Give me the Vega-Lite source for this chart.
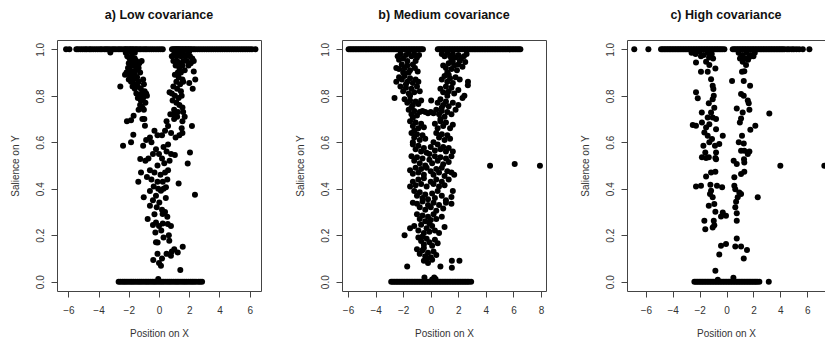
{
"$schema":"https://vega.github.io/schema/vega-lite/v6.json",
"padding":{"left":9,"top":8,"right":0,"bottom":0},
"spacing":81,
"bounds":"flush",
"config":{
 "view":{"stroke":"#444","strokeWidth":1},
 "font":"Liberation Sans",
 "axis":{"grid":false,"domain":false,"tickColor":"#444","tickSize":6,"labelFontSize":10,"labelColor":"#333","titleFontSize":10,"titleFontWeight":"normal","titleColor":"#333","labelFont":"Liberation Sans","titleFont":"Liberation Sans","labelFlush":false,"labelOverlap":false},
 "axisX":{"labelPadding":8,"titlePadding":13},
 "axisY":{"labelAngle":-90,"labelAlign":"center","labelBaseline":"bottom","labelPadding":6,"titlePadding":15},
 "title":{"fontSize":12.5,"fontWeight":"bold","font":"Liberation Sans","anchor":"middle","offset":19,"color":"#111","baseline":"alphabetic"}
},
"datasets":{
"a":[
{"x":-6.15,"y":1},{"x":-5.93,"y":1},{"x":-5.47,"y":1},{"x":-5.35,"y":1},{"x":-5.2,"y":1},{"x":-5.05,"y":1},{"x":-4.9,"y":1},{"x":-4.78,"y":1},{"x":-4.62,"y":1},{"x":-4.5,"y":1},{"x":-4.35,"y":1},{"x":-4.2,"y":1},{"x":-4.05,"y":1},{"x":-3.9,"y":1},{"x":-3.78,"y":1},{"x":-3.62,"y":1},{"x":-3.5,"y":1},{"x":-3.38,"y":1},{"x":-3.25,"y":1},{"x":-3.1,"y":1},{"x":-2.98,"y":1},{"x":-2.85,"y":1},{"x":-2.7,"y":1},{"x":-2.58,"y":1},{"x":-2.45,"y":1},{"x":-2.3,"y":1},{"x":-2.2,"y":1},{"x":-2.1,"y":1},{"x":-1.98,"y":1},{"x":-1.88,"y":1},{"x":-1.78,"y":1},{"x":-1.68,"y":1},{"x":-1.55,"y":1},{"x":-1.45,"y":1},{"x":-1.32,"y":1},{"x":-1.2,"y":1},{"x":-1.05,"y":1},{"x":-0.92,"y":1},{"x":-0.8,"y":1},{"x":-0.65,"y":1},{"x":-0.5,"y":1},{"x":-0.35,"y":1},{"x":-0.2,"y":1},{"x":-0.05,"y":1},{"x":0.1,"y":1},{"x":0.25,"y":1},
{"x":0.86,"y":1},{"x":0.95,"y":1},{"x":1.05,"y":1},{"x":1.12,"y":1},{"x":1.2,"y":1},{"x":1.28,"y":1},{"x":1.36,"y":1},{"x":1.45,"y":1},{"x":1.55,"y":1},{"x":1.65,"y":1},{"x":1.75,"y":1},{"x":1.85,"y":1},{"x":1.95,"y":1},{"x":2.05,"y":1},{"x":2.15,"y":1},{"x":2.28,"y":1},{"x":2.4,"y":1},{"x":2.55,"y":1},{"x":2.7,"y":1},{"x":2.85,"y":1},{"x":3.0,"y":1},{"x":3.15,"y":1},{"x":3.3,"y":1},{"x":3.45,"y":1},{"x":3.6,"y":1},{"x":3.75,"y":1},{"x":3.9,"y":1},{"x":4.05,"y":1},{"x":4.2,"y":1},{"x":4.35,"y":1},{"x":4.5,"y":1},{"x":4.65,"y":1},{"x":4.8,"y":1},{"x":4.95,"y":1},{"x":5.1,"y":1},{"x":5.25,"y":1},{"x":5.4,"y":1},{"x":5.55,"y":1},{"x":5.7,"y":1},{"x":5.85,"y":1},{"x":6.0,"y":1},{"x":6.15,"y":1},{"x":6.38,"y":1},{"x":-3.22,"y":0.986},
{"x":-2.1,"y":0.97},{"x":-1.95,"y":0.96},{"x":-1.8,"y":0.97},{"x":-1.7,"y":0.95},{"x":-1.6,"y":0.96},{"x":-1.5,"y":0.95},{"x":-2.0,"y":0.94},{"x":-1.85,"y":0.93},{"x":-1.65,"y":0.93},{"x":-1.45,"y":0.93},{"x":-1.3,"y":0.94},{"x":-2.05,"y":0.92},{"x":-1.9,"y":0.91},{"x":-1.75,"y":0.9},{"x":-1.55,"y":0.91},{"x":-1.35,"y":0.92},{"x":-1.15,"y":0.95},{"x":-2.15,"y":0.9},{"x":-1.95,"y":0.89},{"x":-1.8,"y":0.88},{"x":-1.6,"y":0.89},{"x":-1.45,"y":0.88},{"x":-1.25,"y":0.9},{"x":-1.05,"y":0.87},{"x":-2.0,"y":0.87},{"x":-1.85,"y":0.86},{"x":-1.7,"y":0.87},{"x":-1.55,"y":0.85},{"x":-1.35,"y":0.86},{"x":-1.75,"y":0.84},{"x":-1.6,"y":0.83},{"x":-1.4,"y":0.84},{"x":-1.2,"y":0.83},{"x":-1.0,"y":0.85},{"x":-2.25,"y":0.89},{"x":-2.56,"y":0.84},{"x":-1.5,"y":0.81},{"x":-1.3,"y":0.8},{"x":-1.15,"y":0.81},{"x":-0.95,"y":0.82},{"x":-0.85,"y":0.81},{"x":-1.4,"y":0.79},{"x":-1.2,"y":0.78},{"x":-1.05,"y":0.79},{"x":-0.8,"y":0.8},{"x":-1.25,"y":0.76},{"x":-1.1,"y":0.75},{"x":-0.9,"y":0.77},{"x":-1.35,"y":0.74},{"x":-1.0,"y":0.74},{"x":-2.2,"y":0.985},{"x":-1.9,"y":0.99},{"x":-1.6,"y":0.985},
{"x":0.85,"y":0.97},{"x":1.0,"y":0.98},{"x":1.15,"y":0.97},{"x":1.3,"y":0.98},{"x":1.45,"y":0.97},{"x":1.6,"y":0.98},{"x":1.75,"y":0.97},{"x":1.9,"y":0.98},{"x":2.05,"y":0.97},{"x":2.2,"y":0.96},{"x":0.95,"y":0.95},{"x":1.2,"y":0.95},{"x":1.4,"y":0.94},{"x":1.6,"y":0.95},{"x":1.85,"y":0.95},{"x":2.1,"y":0.94},{"x":2.3,"y":0.95},{"x":1.1,"y":0.93},{"x":1.35,"y":0.92},{"x":1.55,"y":0.93},{"x":1.95,"y":0.93},{"x":1.25,"y":0.9},{"x":1.45,"y":0.9},{"x":1.7,"y":0.91},{"x":2.3,"y":0.905},{"x":1.05,"y":0.89},{"x":1.3,"y":0.88},{"x":1.55,"y":0.87},{"x":1.15,"y":0.86},{"x":1.4,"y":0.85},{"x":1.6,"y":0.86},{"x":2.4,"y":0.87},{"x":2.0,"y":0.855},{"x":0.95,"y":0.84},{"x":1.2,"y":0.83},{"x":1.45,"y":0.82},{"x":2.23,"y":0.83},{"x":0.7,"y":0.815},{"x":0.85,"y":0.81},{"x":1.05,"y":0.8},{"x":1.3,"y":0.79},{"x":1.5,"y":0.8},{"x":0.9,"y":0.78},{"x":1.15,"y":0.77},{"x":1.35,"y":0.76},{"x":1.55,"y":0.75},{"x":1.0,"y":0.74},{"x":1.25,"y":0.73},{"x":1.6,"y":0.73},{"x":0.75,"y":0.72},{"x":0.95,"y":0.72},{"x":1.7,"y":0.71},{"x":1.1,"y":0.99},{"x":1.5,"y":0.99},{"x":2.0,"y":0.99},
{"x":-2.12,"y":0.69},{"x":-1.85,"y":0.695},{"x":-1.68,"y":0.714},{"x":-2.38,"y":0.585},{"x":-1.85,"y":0.6},{"x":-1.7,"y":0.632},{"x":-0.97,"y":0.7},{"x":-0.93,"y":0.671},{"x":-1.1,"y":0.7},
{"x":0.5,"y":0.69},{"x":0.6,"y":0.67},{"x":0.8,"y":0.64},{"x":0.4,"y":0.65},{"x":1.0,"y":0.7},{"x":1.2,"y":0.71},{"x":1.55,"y":0.69},{"x":1.5,"y":0.66},{"x":1.35,"y":0.63},{"x":1.1,"y":0.62},{"x":2.18,"y":0.67},{"x":1.55,"y":0.64},
{"x":-0.3,"y":0.65},{"x":-0.1,"y":0.63},{"x":-0.5,"y":0.6},{"x":-0.6,"y":0.62},{"x":-0.85,"y":0.61},{"x":-1.05,"y":0.585},{"x":0.2,"y":0.63},{"x":0.6,"y":0.59},{"x":0.3,"y":0.58},
{"x":-0.2,"y":0.57},{"x":-0.4,"y":0.55},{"x":-0.7,"y":0.53},{"x":-0.9,"y":0.52},{"x":-1.24,"y":0.528},{"x":0.0,"y":0.55},{"x":0.2,"y":0.53},{"x":0.5,"y":0.56},{"x":0.8,"y":0.55},{"x":1.05,"y":0.545},{"x":0.7,"y":0.52},{"x":0.35,"y":0.51},{"x":-0.1,"y":0.5},{"x":1.9,"y":0.509},{"x":2.05,"y":0.556},
{"x":-0.6,"y":0.48},{"x":-0.3,"y":0.47},{"x":-1.19,"y":0.47},{"x":0.1,"y":0.46},{"x":0.4,"y":0.47},{"x":0.6,"y":0.48},{"x":-0.8,"y":0.45},{"x":-0.5,"y":0.44},{"x":-0.1,"y":0.43},{"x":0.25,"y":0.43},{"x":0.55,"y":0.44},{"x":1.3,"y":0.423},{"x":-1.37,"y":0.43},
{"x":-0.35,"y":0.41},{"x":-0.05,"y":0.4},{"x":0.3,"y":0.4},{"x":0.46,"y":0.406},{"x":-0.6,"y":0.39},{"x":0.13,"y":0.391},{"x":-0.2,"y":0.37},{"x":-1.01,"y":0.363},{"x":0.45,"y":0.36},{"x":-0.4,"y":0.35},{"x":0.02,"y":0.341},{"x":2.38,"y":0.374},
{"x":-0.6,"y":0.327},{"x":-0.15,"y":0.32},{"x":0.2,"y":0.31},{"x":0.4,"y":0.3},{"x":0.24,"y":0.291},{"x":-0.3,"y":0.29},{"x":0.55,"y":0.28},{"x":-0.75,"y":0.27},{"x":-0.2,"y":0.255},{"x":0.25,"y":0.25},{"x":-0.4,"y":0.244},{"x":0.0,"y":0.24},{"x":0.79,"y":0.24},{"x":0.58,"y":0.248},{"x":-0.24,"y":0.212},{"x":0.65,"y":0.2},{"x":0.68,"y":0.176},{"x":-0.09,"y":0.169},{"x":0.15,"y":0.22},{"x":-0.2,"y":0.17},{"x":0.3,"y":0.19},
{"x":1.01,"y":0.14},{"x":0.79,"y":0.112},{"x":1.57,"y":0.15},{"x":1.41,"y":0.05},{"x":1.24,"y":0.126},{"x":0.5,"y":0.12},{"x":0.13,"y":0.069},{"x":-0.38,"y":0.093},{"x":0.0,"y":0.08},{"x":0.2,"y":0.1},{"x":0.85,"y":0.13},{"x":-0.1,"y":0.12},
{"x":-2.67,"y":0},{"x":-2.55,"y":0},{"x":-2.42,"y":0},{"x":-2.3,"y":0},{"x":-2.18,"y":0},{"x":-2.05,"y":0},{"x":-1.92,"y":0},{"x":-1.8,"y":0},{"x":-1.68,"y":0},{"x":-1.55,"y":0},{"x":-1.42,"y":0},{"x":-1.3,"y":0},{"x":-1.18,"y":0},{"x":-1.05,"y":0},{"x":-0.92,"y":0},{"x":-0.8,"y":0},{"x":-0.68,"y":0},{"x":-0.55,"y":0},{"x":-0.42,"y":0},{"x":-0.3,"y":0},{"x":-0.18,"y":0},{"x":-0.05,"y":0},{"x":0.08,"y":0},{"x":0.2,"y":0},{"x":0.32,"y":0},{"x":0.45,"y":0},{"x":0.58,"y":0},{"x":0.7,"y":0},{"x":0.82,"y":0},{"x":0.95,"y":0},{"x":1.08,"y":0},{"x":1.2,"y":0},{"x":1.32,"y":0},{"x":1.45,"y":0},{"x":1.58,"y":0},{"x":1.7,"y":0},{"x":1.82,"y":0},{"x":1.95,"y":0},{"x":2.08,"y":0},{"x":2.2,"y":0},{"x":2.32,"y":0},{"x":2.45,"y":0},{"x":2.6,"y":0},{"x":2.72,"y":0},{"x":2.85,"y":0},{"x":-0.05,"y":0.012}
],
"b":[
{"x":-5.96,"y":1},{"x":-5.84,"y":1},{"x":-5.72,"y":1},{"x":-5.6,"y":1},{"x":-5.48,"y":1},{"x":-5.36,"y":1},{"x":-5.24,"y":1},{"x":-5.12,"y":1},{"x":-5.0,"y":1},{"x":-4.88,"y":1},{"x":-4.76,"y":1},{"x":-4.64,"y":1},{"x":-4.52,"y":1},{"x":-4.4,"y":1},{"x":-4.28,"y":1},{"x":-4.16,"y":1},{"x":-4.04,"y":1},{"x":-3.92,"y":1},{"x":-3.8,"y":1},{"x":-3.68,"y":1},{"x":-3.56,"y":1},{"x":-3.44,"y":1},{"x":-3.32,"y":1},{"x":-3.2,"y":1},{"x":-3.08,"y":1},{"x":-2.96,"y":1},{"x":-2.84,"y":1},{"x":-2.72,"y":1},{"x":-2.6,"y":1},{"x":-2.48,"y":1},{"x":-2.36,"y":1},{"x":-2.24,"y":1},{"x":-2.12,"y":1},{"x":-2.0,"y":1},{"x":-1.88,"y":1},{"x":-1.76,"y":1},{"x":-1.64,"y":1},{"x":-1.52,"y":1},{"x":-1.4,"y":1},{"x":-1.28,"y":1},{"x":-1.16,"y":1},{"x":-1.04,"y":1},{"x":-0.92,"y":1},{"x":-0.8,"y":1},{"x":-0.68,"y":1},{"x":-0.57,"y":1},
{"x":0.51,"y":1},{"x":0.63,"y":1},{"x":0.75,"y":1},{"x":0.87,"y":1},{"x":0.99,"y":1},{"x":1.11,"y":1},{"x":1.23,"y":1},{"x":1.35,"y":1},{"x":1.47,"y":1},{"x":1.59,"y":1},{"x":1.71,"y":1},{"x":1.83,"y":1},{"x":1.95,"y":1},{"x":2.07,"y":1},{"x":2.19,"y":1},{"x":2.31,"y":1},{"x":2.43,"y":1},{"x":2.55,"y":1},{"x":2.67,"y":1},{"x":2.79,"y":1},{"x":2.91,"y":1},{"x":3.03,"y":1},{"x":3.15,"y":1},{"x":3.27,"y":1},{"x":3.39,"y":1},{"x":3.51,"y":1},{"x":3.63,"y":1},{"x":3.75,"y":1},{"x":3.87,"y":1},{"x":3.99,"y":1},{"x":4.11,"y":1},{"x":4.23,"y":1},{"x":4.35,"y":1},{"x":4.47,"y":1},{"x":4.59,"y":1},{"x":4.71,"y":1},{"x":4.83,"y":1},{"x":4.95,"y":1},{"x":5.07,"y":1},{"x":5.19,"y":1},{"x":5.31,"y":1},{"x":5.43,"y":1},{"x":5.55,"y":1},{"x":5.67,"y":1},{"x":5.79,"y":1},{"x":5.91,"y":1},{"x":6.03,"y":1},{"x":6.15,"y":1},{"x":6.27,"y":1},{"x":6.39,"y":1},{"x":6.5,"y":1},
{"x":-2.4,"y":0.97},{"x":-2.2,"y":0.98},{"x":-2.0,"y":0.96},{"x":-1.8,"y":0.975},{"x":-1.6,"y":0.985},{"x":-1.4,"y":0.97},{"x":-1.2,"y":0.98},{"x":-1.0,"y":0.965},{"x":-0.85,"y":0.975},{"x":-1.7,"y":0.95},{"x":-2.3,"y":0.955},{"x":-1.1,"y":0.95},
{"x":0.8,"y":0.98},{"x":1.0,"y":0.97},{"x":1.2,"y":0.985},{"x":1.4,"y":0.97},{"x":1.6,"y":0.98},{"x":1.8,"y":0.965},{"x":2.0,"y":0.975},{"x":2.2,"y":0.96},{"x":2.4,"y":0.97},{"x":2.6,"y":0.98},{"x":1.5,"y":0.955},{"x":2.1,"y":0.95},{"x":2.5,"y":0.945},
{"x":-2.5,"y":0.92},{"x":-2.3,"y":0.915},{"x":-2.1,"y":0.935},{"x":-1.9,"y":0.92},{"x":-1.7,"y":0.93},{"x":-1.5,"y":0.91},{"x":-1.3,"y":0.935},{"x":-1.15,"y":0.92},{"x":-0.95,"y":0.905},{"x":-2.0,"y":0.9},{"x":-1.6,"y":0.9},
{"x":0.9,"y":0.93},{"x":1.1,"y":0.92},{"x":1.3,"y":0.94},{"x":1.5,"y":0.915},{"x":1.7,"y":0.93},{"x":1.9,"y":0.91},{"x":2.3,"y":0.925},{"x":1.2,"y":0.9},{"x":2.0,"y":0.935},{"x":1.6,"y":0.945},
{"x":-2.3,"y":0.88},{"x":-2.1,"y":0.87},{"x":-1.9,"y":0.885},{"x":-1.7,"y":0.86},{"x":-1.5,"y":0.875},{"x":-1.3,"y":0.855},{"x":-1.1,"y":0.87},{"x":-0.9,"y":0.86},{"x":-1.8,"y":0.85},{"x":-2.5,"y":0.86},
{"x":0.8,"y":0.87},{"x":1.0,"y":0.885},{"x":1.2,"y":0.86},{"x":1.4,"y":0.875},{"x":1.6,"y":0.855},{"x":1.8,"y":0.88},{"x":2.7,"y":0.86},{"x":2.69,"y":0.845},{"x":1.3,"y":0.89},{"x":2.1,"y":0.87},
{"x":-2.2,"y":0.84},{"x":-2.0,"y":0.82},{"x":-1.8,"y":0.835},{"x":-1.6,"y":0.81},{"x":-1.4,"y":0.83},{"x":-1.2,"y":0.815},{"x":-1.0,"y":0.84},{"x":-0.8,"y":0.82},{"x":-1.5,"y":0.8},
{"x":0.7,"y":0.83},{"x":0.9,"y":0.815},{"x":1.1,"y":0.84},{"x":1.3,"y":0.82},{"x":1.5,"y":0.835},{"x":1.7,"y":0.81},{"x":2.0,"y":0.825},{"x":2.44,"y":0.8},{"x":1.2,"y":0.8},
{"x":-2.63,"y":0.79},{"x":-1.9,"y":0.785},{"x":-1.7,"y":0.77},{"x":-1.5,"y":0.78},{"x":-1.3,"y":0.76},{"x":-1.1,"y":0.775},{"x":-0.9,"y":0.765},{"x":-0.7,"y":0.78},{"x":-1.4,"y":0.75},
{"x":0.03,"y":0.78},{"x":0.5,"y":0.77},{"x":0.7,"y":0.785},{"x":0.9,"y":0.76},{"x":1.1,"y":0.775},{"x":1.3,"y":0.755},{"x":1.6,"y":0.77},{"x":2.0,"y":0.76},{"x":2.3,"y":0.79},{"x":0.8,"y":0.75},
{"x":-1.6,"y":0.74},{"x":-1.4,"y":0.72},{"x":-1.2,"y":0.735},{"x":-1.0,"y":0.715},{"x":-0.8,"y":0.73},{"x":-0.6,"y":0.735},{"x":-0.4,"y":0.73},{"x":-0.2,"y":0.725},{"x":0.0,"y":0.73},{"x":0.2,"y":0.725},{"x":-1.3,"y":0.705},
{"x":0.4,"y":0.74},{"x":0.6,"y":0.72},{"x":0.8,"y":0.735},{"x":1.0,"y":0.71},{"x":1.2,"y":0.73},{"x":1.5,"y":0.72},{"x":1.8,"y":0.74},{"x":0.7,"y":0.7},
{"x":-1.5,"y":0.69},{"x":-1.3,"y":0.67},{"x":-1.1,"y":0.685},{"x":-0.9,"y":0.66},{"x":-0.7,"y":0.68},{"x":-0.5,"y":0.665},{"x":0.3,"y":0.68},{"x":0.5,"y":0.66},{"x":0.7,"y":0.69},{"x":0.9,"y":0.67},{"x":1.1,"y":0.685},{"x":1.4,"y":0.66},{"x":1.6,"y":0.675},{"x":-1.2,"y":0.65},
{"x":-1.4,"y":0.64},{"x":-1.2,"y":0.62},{"x":-1.0,"y":0.635},{"x":-0.8,"y":0.61},{"x":-0.6,"y":0.63},{"x":-0.4,"y":0.615},{"x":0.2,"y":0.6},{"x":0.4,"y":0.64},{"x":0.6,"y":0.62},{"x":0.8,"y":0.635},{"x":1.0,"y":0.61},{"x":1.2,"y":0.63},{"x":1.4,"y":0.615},{"x":-1.3,"y":0.6},
{"x":-1.3,"y":0.59},{"x":-1.1,"y":0.57},{"x":-0.9,"y":0.585},{"x":-0.7,"y":0.56},{"x":-0.5,"y":0.575},{"x":-0.3,"y":0.555},{"x":0.0,"y":0.58},{"x":0.3,"y":0.565},{"x":0.5,"y":0.59},{"x":0.7,"y":0.57},{"x":0.9,"y":0.58},{"x":1.1,"y":0.56},{"x":1.3,"y":0.575},{"x":1.6,"y":0.56},{"x":-0.1,"y":0.55},
{"x":-1.4,"y":0.54},{"x":-1.2,"y":0.52},{"x":-1.0,"y":0.535},{"x":-0.8,"y":0.51},{"x":-0.6,"y":0.53},{"x":-0.4,"y":0.5},{"x":-0.1,"y":0.525},{"x":0.1,"y":0.51},{"x":0.3,"y":0.54},{"x":0.5,"y":0.52},{"x":0.7,"y":0.535},{"x":0.9,"y":0.505},{"x":1.1,"y":0.53},{"x":1.3,"y":0.515},{"x":1.5,"y":0.54},
{"x":-1.5,"y":0.48},{"x":-1.3,"y":0.465},{"x":-1.1,"y":0.49},{"x":-0.9,"y":0.47},{"x":-0.7,"y":0.485},{"x":-0.5,"y":0.46},{"x":-0.3,"y":0.49},{"x":0.0,"y":0.475},{"x":0.2,"y":0.46},{"x":0.4,"y":0.485},{"x":0.6,"y":0.47},{"x":0.8,"y":0.49},{"x":1.0,"y":0.455},{"x":1.2,"y":0.475},{"x":1.5,"y":0.47},{"x":1.7,"y":0.46},
{"x":-1.5,"y":0.41},{"x":-1.3,"y":0.43},{"x":-1.1,"y":0.415},{"x":-0.9,"y":0.44},{"x":-0.7,"y":0.42},{"x":-0.5,"y":0.445},{"x":-0.3,"y":0.41},{"x":0.0,"y":0.43},{"x":0.2,"y":0.42},{"x":0.4,"y":0.44},{"x":0.6,"y":0.41},{"x":0.8,"y":0.43},{"x":1.0,"y":0.415},{"x":1.3,"y":0.44},
{"x":-1.2,"y":0.39},{"x":-1.0,"y":0.37},{"x":-0.8,"y":0.385},{"x":-0.6,"y":0.36},{"x":-0.4,"y":0.375},{"x":-0.2,"y":0.355},{"x":0.1,"y":0.38},{"x":0.3,"y":0.36},{"x":0.5,"y":0.39},{"x":0.8,"y":0.37},{"x":1.1,"y":0.35},{"x":1.5,"y":0.365},{"x":1.6,"y":0.39},
{"x":-1.3,"y":0.34},{"x":-1.0,"y":0.335},{"x":-0.8,"y":0.32},{"x":-0.6,"y":0.345},{"x":-0.4,"y":0.31},{"x":-0.2,"y":0.33},{"x":0.0,"y":0.32},{"x":0.2,"y":0.34},{"x":0.4,"y":0.305},{"x":0.6,"y":0.33},{"x":0.9,"y":0.315},{"x":1.1,"y":0.34},{"x":1.5,"y":0.335},
{"x":-1.0,"y":0.29},{"x":-0.8,"y":0.27},{"x":-0.6,"y":0.285},{"x":-0.4,"y":0.26},{"x":-0.2,"y":0.28},{"x":0.0,"y":0.265},{"x":0.2,"y":0.29},{"x":0.4,"y":0.27},{"x":0.8,"y":0.28},{"x":-0.1,"y":0.25},
{"x":-1.9,"y":0.2},{"x":-1.5,"y":0.23},{"x":-1.2,"y":0.24},{"x":-0.9,"y":0.22},{"x":-0.7,"y":0.245},{"x":-0.5,"y":0.21},{"x":-0.3,"y":0.23},{"x":-0.1,"y":0.215},{"x":0.1,"y":0.24},{"x":0.3,"y":0.22},{"x":0.6,"y":0.21},{"x":1.0,"y":0.235},
{"x":-0.9,"y":0.19},{"x":-0.7,"y":0.175},{"x":-0.5,"y":0.16},{"x":-0.3,"y":0.185},{"x":-0.1,"y":0.17},{"x":0.1,"y":0.155},{"x":0.3,"y":0.18},{"x":0.5,"y":0.165},{"x":-0.6,"y":0.195},
{"x":-1.0,"y":0.14},{"x":-0.8,"y":0.12},{"x":-0.6,"y":0.135},{"x":-0.4,"y":0.11},{"x":-0.2,"y":0.125},{"x":0.0,"y":0.105},{"x":0.2,"y":0.13},{"x":0.4,"y":0.115},{"x":-0.5,"y":0.145},
{"x":-1.71,"y":0.065},{"x":-0.5,"y":0.09},{"x":-0.2,"y":0.08},{"x":0.1,"y":0.095},{"x":0.7,"y":0.065},{"x":1.53,"y":0.09},{"x":2.08,"y":0.09},{"x":1.53,"y":0.06},{"x":-0.3,"y":0.1},
{"x":-0.46,"y":0.018},{"x":0.25,"y":0.018},{"x":0.35,"y":0.012},{"x":0.1,"y":0.01},
{"x":4.3,"y":0.499},{"x":6.09,"y":0.506},{"x":7.92,"y":0.499},
{"x":-2.87,"y":0},{"x":-2.75,"y":0},{"x":-2.63,"y":0},{"x":-2.51,"y":0},{"x":-2.39,"y":0},{"x":-2.27,"y":0},{"x":-2.15,"y":0},{"x":-2.03,"y":0},{"x":-1.91,"y":0},{"x":-1.79,"y":0},{"x":-1.67,"y":0},{"x":-1.55,"y":0},{"x":-1.43,"y":0},{"x":-1.31,"y":0},{"x":-1.19,"y":0},{"x":-1.07,"y":0},{"x":-0.95,"y":0},{"x":-0.83,"y":0},{"x":-0.71,"y":0},{"x":-0.59,"y":0},{"x":-0.47,"y":0},{"x":-0.35,"y":0},{"x":-0.23,"y":0},{"x":-0.11,"y":0},{"x":0.01,"y":0},{"x":0.13,"y":0},{"x":0.25,"y":0},{"x":0.37,"y":0},{"x":0.49,"y":0},{"x":0.61,"y":0},{"x":0.73,"y":0},{"x":0.85,"y":0},{"x":0.97,"y":0},{"x":1.09,"y":0},{"x":1.21,"y":0},{"x":1.33,"y":0},{"x":1.45,"y":0},{"x":1.57,"y":0},{"x":1.69,"y":0},{"x":1.81,"y":0},{"x":1.93,"y":0},{"x":2.05,"y":0},{"x":2.17,"y":0},{"x":2.29,"y":0},{"x":2.41,"y":0},{"x":2.53,"y":0},{"x":2.65,"y":0},{"x":2.77,"y":0},{"x":2.93,"y":0}
],
"c":[
{"x":-6.86,"y":1},{"x":-5.81,"y":1},{"x":-4.87,"y":1},{"x":-4.75,"y":1},{"x":-4.63,"y":1},{"x":-4.51,"y":1},{"x":-4.39,"y":1},{"x":-4.27,"y":1},{"x":-4.15,"y":1},{"x":-4.03,"y":1},{"x":-3.91,"y":1},{"x":-3.79,"y":1},{"x":-3.67,"y":1},{"x":-3.55,"y":1},{"x":-3.43,"y":1},{"x":-3.31,"y":1},{"x":-3.19,"y":1},{"x":-3.07,"y":1},{"x":-2.95,"y":1},{"x":-2.83,"y":1},{"x":-2.71,"y":1},{"x":-2.59,"y":1},{"x":-2.47,"y":1},{"x":-2.35,"y":1},{"x":-2.23,"y":1},{"x":-2.11,"y":1},{"x":-1.99,"y":1},{"x":-1.87,"y":1},{"x":-1.75,"y":1},{"x":-1.63,"y":1},{"x":-1.51,"y":1},{"x":-1.39,"y":1},{"x":-1.27,"y":1},{"x":-1.15,"y":1},{"x":-1.03,"y":1},{"x":-0.91,"y":1},{"x":-0.79,"y":1},{"x":-0.67,"y":1},{"x":-0.55,"y":1},{"x":-0.43,"y":1},{"x":-0.31,"y":1},{"x":-0.16,"y":1},
{"x":0.46,"y":1},{"x":0.58,"y":1},{"x":0.7,"y":1},{"x":0.82,"y":1},{"x":0.94,"y":1},{"x":1.06,"y":1},{"x":1.18,"y":1},{"x":1.3,"y":1},{"x":1.42,"y":1},{"x":1.54,"y":1},{"x":1.66,"y":1},{"x":1.78,"y":1},{"x":1.9,"y":1},{"x":2.02,"y":1},{"x":2.14,"y":1},{"x":2.26,"y":1},{"x":2.38,"y":1},{"x":2.5,"y":1},{"x":2.62,"y":1},{"x":2.74,"y":1},{"x":2.86,"y":1},{"x":2.98,"y":1},{"x":3.1,"y":1},{"x":3.22,"y":1},{"x":3.34,"y":1},{"x":3.46,"y":1},{"x":3.58,"y":1},{"x":3.7,"y":1},{"x":3.82,"y":1},{"x":3.94,"y":1},{"x":4.06,"y":1},{"x":4.18,"y":1},{"x":4.3,"y":1},{"x":4.5,"y":1},{"x":4.65,"y":1},{"x":4.85,"y":1},{"x":5.0,"y":1},{"x":5.2,"y":1},{"x":5.4,"y":1},{"x":5.67,"y":1},{"x":6.16,"y":1},
{"x":-2.6,"y":0.985},{"x":-2.3,"y":0.98},{"x":-2.0,"y":0.99},{"x":-1.7,"y":0.975},{"x":-1.4,"y":0.985},{"x":-1.1,"y":0.98},{"x":-1.9,"y":0.97},{"x":-1.3,"y":0.965},{"x":-1.0,"y":0.96},
{"x":0.9,"y":0.985},{"x":1.2,"y":0.975},{"x":1.5,"y":0.985},{"x":1.8,"y":0.975},{"x":2.1,"y":0.985},{"x":1.0,"y":0.96},{"x":1.6,"y":0.955},
{"x":-2.27,"y":0.943},{"x":-1.9,"y":0.903},{"x":-1.4,"y":0.903},{"x":-1.52,"y":0.946},{"x":-1.28,"y":0.932},{"x":-0.83,"y":0.917},{"x":-1.15,"y":0.871},{"x":-1.03,"y":0.843},{"x":-0.98,"y":0.829},{"x":-2.27,"y":0.815},{"x":-2.14,"y":0.789},{"x":-0.95,"y":0.8},{"x":-1.03,"y":0.785},{"x":-1.32,"y":0.768},{"x":-0.91,"y":0.749},{"x":-1.15,"y":0.728},{"x":-1.84,"y":0.728},{"x":-1.03,"y":0.707},{"x":-0.78,"y":0.7},{"x":-1.4,"y":0.707},{"x":-2.51,"y":0.674},{"x":-2.27,"y":0.671},{"x":-1.83,"y":0.685},{"x":-1.52,"y":0.664},{"x":-1.28,"y":0.678},{"x":-0.78,"y":0.656},{"x":-1.65,"y":0.642},{"x":-1.4,"y":0.628},{"x":-1.08,"y":0.614},{"x":-0.28,"y":0.628},{"x":-1.72,"y":0.585},{"x":-1.28,"y":0.6},{"x":-0.86,"y":0.585},{"x":-0.54,"y":0.592},{"x":-1.58,"y":0.556},{"x":-0.78,"y":0.556},{"x":-1.83,"y":0.535},{"x":-1.32,"y":0.535},{"x":-0.78,"y":0.527},
{"x":1.08,"y":0.967},{"x":1.2,"y":0.946},{"x":1.4,"y":0.96},{"x":1.7,"y":0.967},{"x":2.0,"y":0.97},{"x":1.45,"y":0.932},{"x":1.15,"y":0.903},{"x":1.32,"y":0.906},{"x":0.41,"y":0.864},{"x":1.28,"y":0.864},{"x":1.75,"y":0.843},{"x":1.08,"y":0.808},{"x":1.28,"y":0.8},{"x":1.58,"y":0.78},{"x":1.65,"y":0.768},{"x":0.76,"y":0.745},{"x":1.2,"y":0.728},{"x":1.08,"y":0.702},{"x":1.7,"y":0.74},{"x":0.99,"y":0.685},{"x":2.14,"y":0.671},{"x":1.77,"y":0.654},{"x":3.18,"y":0.724},{"x":1.15,"y":0.628},{"x":0.91,"y":0.6},{"x":1.28,"y":0.595},{"x":1.32,"y":0.563},{"x":1.08,"y":0.563},{"x":1.7,"y":0.56},{"x":1.58,"y":0.549},{"x":1.3,"y":0.527},{"x":0.53,"y":0.52},
{"x":-1.52,"y":0.532},{"x":-0.83,"y":0.532},{"x":0.76,"y":0.506},{"x":1.32,"y":0.513},{"x":4.0,"y":0.499},{"x":7.27,"y":0.499},
{"x":-1.52,"y":0.453},{"x":-1.15,"y":0.47},{"x":-0.83,"y":0.473},{"x":0.58,"y":0.449},{"x":1.08,"y":0.463},{"x":1.32,"y":0.473},
{"x":-2.27,"y":0.41},{"x":-1.9,"y":0.413},{"x":-1.2,"y":0.417},{"x":-0.71,"y":0.413},{"x":-0.33,"y":0.406},{"x":-1.23,"y":0.377},{"x":-1.03,"y":0.363},{"x":-1.15,"y":0.391},{"x":0.58,"y":0.413},{"x":0.65,"y":0.398},{"x":0.95,"y":0.384},{"x":1.08,"y":0.377},{"x":0.83,"y":0.363},{"x":2.32,"y":0.363},
{"x":-1.32,"y":0.327},{"x":-0.91,"y":0.334},{"x":0.71,"y":0.344},{"x":0.65,"y":0.32},{"x":-0.83,"y":0.301},{"x":-0.28,"y":0.298},{"x":-0.04,"y":0.284},{"x":-0.41,"y":0.281},{"x":0.76,"y":0.295},{"x":0.76,"y":0.262},{"x":-1.65,"y":0.262},{"x":-0.95,"y":0.262},{"x":-1.58,"y":0.226},{"x":-0.91,"y":0.243},{"x":-1.03,"y":0.233},
{"x":0.76,"y":0.186},{"x":-0.41,"y":0.155},{"x":-0.04,"y":0.162},{"x":0.65,"y":0.152},{"x":1.08,"y":0.152},{"x":1.52,"y":0.136},{"x":1.28,"y":0.1},{"x":-0.54,"y":0.117},{"x":-0.83,"y":0.047},
{"x":-0.65,"y":0.008},{"x":0.51,"y":0.017},
{"x":-2.39,"y":0},{"x":-2.27,"y":0},{"x":-2.15,"y":0},{"x":-2.03,"y":0},{"x":-1.91,"y":0},{"x":-1.79,"y":0},{"x":-1.67,"y":0},{"x":-1.55,"y":0},{"x":-1.43,"y":0},{"x":-1.31,"y":0},{"x":-1.19,"y":0},{"x":-1.07,"y":0},{"x":-0.95,"y":0},{"x":-0.83,"y":0},{"x":-0.71,"y":0},{"x":-0.59,"y":0},{"x":-0.47,"y":0},{"x":-0.35,"y":0},{"x":-0.23,"y":0},{"x":-0.11,"y":0},{"x":0.01,"y":0},{"x":0.13,"y":0},{"x":0.25,"y":0},{"x":0.37,"y":0},{"x":0.49,"y":0},{"x":0.61,"y":0},{"x":0.73,"y":0},{"x":0.85,"y":0},{"x":0.97,"y":0},{"x":1.09,"y":0},{"x":1.21,"y":0},{"x":1.33,"y":0},{"x":1.45,"y":0},{"x":1.57,"y":0},{"x":1.69,"y":0},{"x":1.81,"y":0},{"x":1.93,"y":0},{"x":2.05,"y":0},{"x":2.17,"y":0},{"x":2.29,"y":0},{"x":2.44,"y":0},{"x":3.14,"y":0}
]
},
"hconcat":[
{"title":"a) Low covariance","width":204,"height":251,"data":{"name":"a"},
 "mark":{"type":"circle","size":36,"opacity":1,"color":"#000"},
 "encoding":{
  "x":{"field":"x","type":"quantitative","scale":{"domain":[-6.75,6.75],"nice":false,"zero":false},"axis":{"values":[-6,-4,-2,0,2,4,6],"title":"Position on X"}},
  "y":{"field":"y","type":"quantitative","scale":{"domain":[-0.04,1.04],"nice":false,"zero":false},"axis":{"values":[0,0.2,0.4,0.6,0.8,1],"format":".1f","title":"Salience on Y"}}}},
{"title":"b) Medium covariance","width":204,"height":251,"data":{"name":"b"},
 "mark":{"type":"circle","size":36,"opacity":1,"color":"#000"},
 "encoding":{
  "x":{"field":"x","type":"quantitative","scale":{"domain":[-6.44,8.36],"nice":false,"zero":false},"axis":{"values":[-6,-4,-2,0,2,4,6,8],"title":"Position on X"}},
  "y":{"field":"y","type":"quantitative","scale":{"domain":[-0.04,1.04],"nice":false,"zero":false},"axis":{"values":[0,0.2,0.4,0.6,0.8,1],"format":".1f","title":"Salience on Y"}}}},
{"title":"c) High covariance","width":198,"height":251,"data":{"name":"c"},
 "mark":{"type":"circle","size":36,"opacity":1,"color":"#000"},
 "encoding":{
  "x":{"field":"x","type":"quantitative","scale":{"domain":[-7.4,7.32],"nice":false,"zero":false},"axis":{"values":[-6,-4,-2,0,2,4,6],"title":"Position on X"}},
  "y":{"field":"y","type":"quantitative","scale":{"domain":[-0.04,1.04],"nice":false,"zero":false},"axis":{"values":[0,0.2,0.4,0.6,0.8,1],"format":".1f","title":"Salience on Y"}}}}
]
}
